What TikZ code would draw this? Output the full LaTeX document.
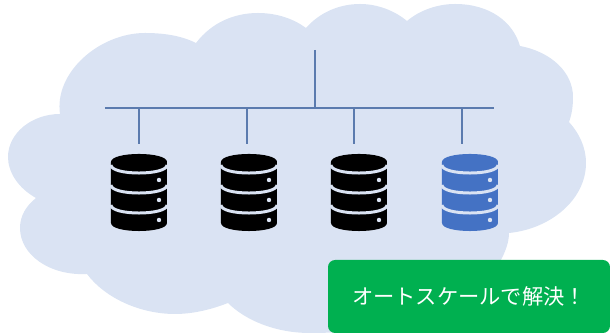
\documentclass[tikz,border=0pt]{standalone}
\usepackage{fontspec}
\newfontfamily\jpfont{Noto Sans CJK JP}
\definecolor{cloudfill}{HTML}{DAE3F3}
\definecolor{busline}{HTML}{5B7BAE}
\definecolor{iconblue}{HTML}{4472C4}
\definecolor{msggreen}{HTML}{00B050}
\tikzset{
    busstyle/.style={busline,line width=1.4pt},
    dbicon/.pic={
        \fill[#1] (-28,0) .. controls (-28,-10.7) and (28,-10.7) .. (28,0) -- (28,61) .. controls (28,71.7) and (-28,71.7) .. (-28,61) -- cycle;
        \foreach \yy in {3,23,43}{
            \draw[cloudfill,line width=1.7pt] (-28,\yy) .. controls (-28,\yy+10.7) and (28,\yy+10.7) .. (28,\yy);
            \fill[cloudfill] (20,\yy+15) circle (2.2);
        }
    },
}
\begin{document}
\begin{tikzpicture}[x=0.02cm,y=-0.02cm]
        \useasboundingbox (0,0) rectangle (610,333);
        %CLOUD
        \fill[cloudfill] (60,114) .. controls (54,72) and (100,33) .. (145,33)
            .. controls (165,33) and (182,36) .. (196,43)
            .. controls (212,22) and (235,13) .. (258,13)
            .. controls (277,13) and (294,19) .. (306,28)
            .. controls (320,12) and (340,4) .. (360,4)
            .. controls (378,4) and (395,11) .. (407,21)
            .. controls (420,10) and (438,4) .. (455,4)
            .. controls (490,4) and (513,22) .. (520,46)
            .. controls (552,52) and (573,73) .. (573,97)
            .. controls (573,106) and (572,114) .. (569,122)
            .. controls (579,133) and (586,147) .. (586,163)
            .. controls (586,200) and (550,229) .. (509,233)
            .. controls (509,243) and (505,252) .. (501,260)
            .. controls (480,310) and (400,333) .. (310,333)
            .. controls (275,333) and (245,320) .. (228,303)
            .. controls (210,310) and (192,314) .. (175,314)
            .. controls (140,314) and (105,298) .. (87,274)
            .. controls (50,276) and (20,255) .. (20,228)
            .. controls (20,216) and (26,206) .. (36,198)
            .. controls (18,188) and (8,172) .. (8,157)
            .. controls (8,133) and (32,114) .. (60,114) -- cycle;
        %BUS
        \coordinate (bustop) at (315,50);
        \coordinate (busmid) at (315,108);
        \coordinate (busleft) at (105,108);
        \coordinate (busright) at (494,108);
        \draw[busstyle] (bustop) -- (busmid);
        \draw[busstyle] (busleft) -- (busright);
        %DROPS
        \foreach \xx/\nn in {139/a,247/b,354/c,462/d}{
            \coordinate (up\nn) at (\xx,108);
            \coordinate (down\nn) at (\xx,144);
            \draw[busstyle] (up\nn) -- (down\nn);
        }
        %DB ICONS
        \pic at (139,162) {dbicon=black};
        \pic at (249,162) {dbicon=black};
        \pic at (359,162) {dbicon=black};
        \pic at (470,162) {dbicon=iconblue};
        %MESSAGE
        \node[fill=msggreen,text=white,rounded corners=0.14cm,inner sep=0pt,outer sep=0pt,minimum width=5.64cm,minimum height=1.46cm,font=\jpfont\fontsize{12.1pt}{14pt}\selectfont] (msgbox) at (469,296.5) {オートスケールで解決！};
\end{tikzpicture}
\end{document}
